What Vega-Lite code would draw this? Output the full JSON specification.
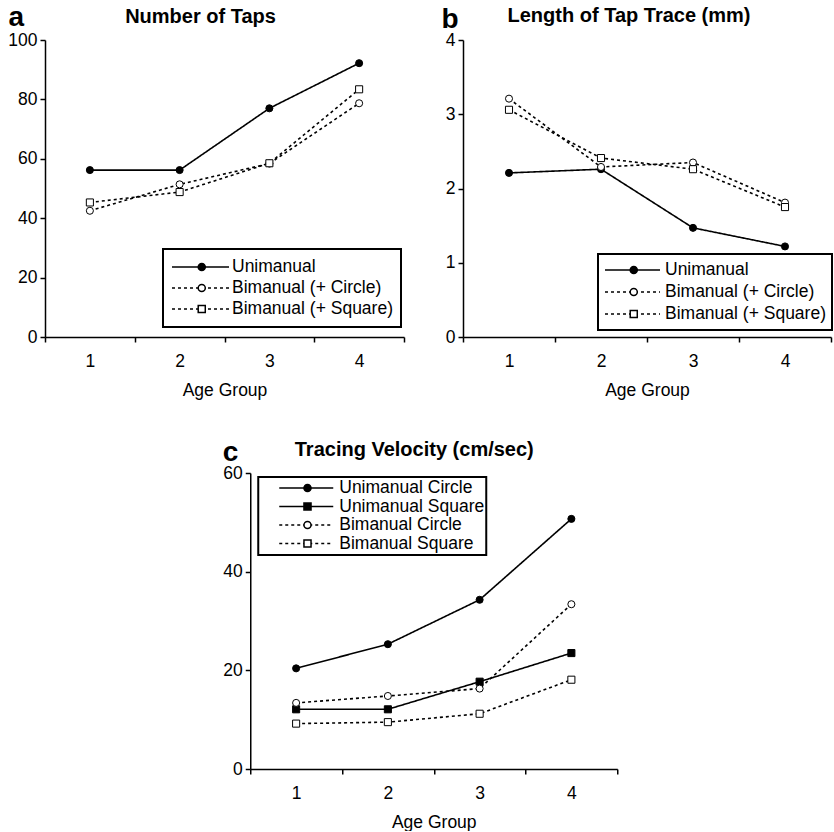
{
  "$schema": "https://vega.github.io/schema/vega-lite/v6.json",
  "padding": {"left": 7, "top": 3, "right": 0, "bottom": 0},
  "center": true,
  "spacing": 39,
  "resolve": {"scale": {"strokeDash": "independent", "shape": "independent", "fill": "independent"}, "legend": {"strokeDash": "independent", "shape": "independent", "fill": "independent"}},
  "datasets": {
    "taps": [
      {"age": 1, "series": "Unimanual", "value": 56.2},
      {"age": 2, "series": "Unimanual", "value": 56.2},
      {"age": 3, "series": "Unimanual", "value": 77.0},
      {"age": 4, "series": "Unimanual", "value": 92.2},
      {"age": 1, "series": "Bimanual (+ Circle)", "value": 42.5},
      {"age": 2, "series": "Bimanual (+ Circle)", "value": 51.4},
      {"age": 3, "series": "Bimanual (+ Circle)", "value": 58.4},
      {"age": 4, "series": "Bimanual (+ Circle)", "value": 78.7},
      {"age": 1, "series": "Bimanual (+ Square)", "value": 45.3},
      {"age": 2, "series": "Bimanual (+ Square)", "value": 48.8},
      {"age": 3, "series": "Bimanual (+ Square)", "value": 58.5},
      {"age": 4, "series": "Bimanual (+ Square)", "value": 83.4}
    ],
    "trace": [
      {"age": 1, "series": "Unimanual", "value": 2.21},
      {"age": 2, "series": "Unimanual", "value": 2.26},
      {"age": 3, "series": "Unimanual", "value": 1.47},
      {"age": 4, "series": "Unimanual", "value": 1.22},
      {"age": 1, "series": "Bimanual (+ Circle)", "value": 3.21},
      {"age": 2, "series": "Bimanual (+ Circle)", "value": 2.29},
      {"age": 3, "series": "Bimanual (+ Circle)", "value": 2.35},
      {"age": 4, "series": "Bimanual (+ Circle)", "value": 1.81},
      {"age": 1, "series": "Bimanual (+ Square)", "value": 3.06},
      {"age": 2, "series": "Bimanual (+ Square)", "value": 2.41},
      {"age": 3, "series": "Bimanual (+ Square)", "value": 2.26},
      {"age": 4, "series": "Bimanual (+ Square)", "value": 1.75}
    ],
    "velocity": [
      {"age": 1, "series": "Unimanual Circle", "value": 20.4},
      {"age": 2, "series": "Unimanual Circle", "value": 25.3},
      {"age": 3, "series": "Unimanual Circle", "value": 34.3},
      {"age": 4, "series": "Unimanual Circle", "value": 50.7},
      {"age": 1, "series": "Unimanual Square", "value": 12.1},
      {"age": 2, "series": "Unimanual Square", "value": 12.1},
      {"age": 3, "series": "Unimanual Square", "value": 17.7},
      {"age": 4, "series": "Unimanual Square", "value": 23.5},
      {"age": 1, "series": "Bimanual Circle", "value": 13.4},
      {"age": 2, "series": "Bimanual Circle", "value": 14.8},
      {"age": 3, "series": "Bimanual Circle", "value": 16.3},
      {"age": 4, "series": "Bimanual Circle", "value": 33.4},
      {"age": 1, "series": "Bimanual Square", "value": 9.2},
      {"age": 2, "series": "Bimanual Square", "value": 9.5},
      {"age": 3, "series": "Bimanual Square", "value": 11.2},
      {"age": 4, "series": "Bimanual Square", "value": 18.1}
    ]
  },
  "config": {
    "font": "Liberation Sans",
    "view": {"stroke": null},
    "axis": {
      "grid": false,
      "domainColor": "black", "domainWidth": 1.5,
      "tickColor": "black", "tickWidth": 1.5, "tickSize": 5,
      "labelColor": "black", "labelFont": "Liberation Sans", "labelFontSize": 17.5,
      "titleColor": "black", "titleFont": "Liberation Sans", "titleFontSize": 17.5, "titleFontWeight": "normal"
    },
    "axisX": {"labelAngle": 0, "labelPadding": 10, "titlePadding": 12, "tickBand": "extent"},
    "axisY": {"labelPadding": 3},
    "title": {"font": "Liberation Sans", "fontSize": 20, "fontWeight": "bold", "color": "black", "frame": "group", "anchor": "middle", "baseline": "alphabetic", "offset": 0},
    "legend": {"labelFont": "Liberation Sans", "labelFontSize": 17.5, "labelColor": "black", "labelLimit": 0}
  },
  "vconcat": [
    {
      "hconcat": [
        {
          "width": 359, "height": 297,
          "title": {"text": "Number of Taps", "dx": -24, "dy": 28},
          "data": {"name": "taps"},
          "encoding": {
            "x": {"field": "age", "type": "ordinal", "bandPosition": 0.5, "scale": {"type": "band", "paddingInner": 0, "paddingOuter": 0}, "axis": {"title": "Age Group"}},
            "y": {"field": "value", "type": "quantitative", "scale": {"domain": [0, 100]},
                  "axis": {"values": [0, 20, 40, 60, 80, 100], "title": "a", "titleAngle": 0, "titleAlign": "left", "titleBaseline": "alphabetic", "titleX": -37, "titleY": -15, "titleFontSize": 28, "titleFontWeight": "bold"}}
          },
          "layer": [
            {"mark": {"type": "line", "color": "black", "strokeWidth": 1.6},
             "encoding": {"strokeDash": {"field": "series", "type": "nominal",
               "scale": {"domain": ["Unimanual", "Bimanual (+ Circle)", "Bimanual (+ Square)"], "range": [[1, 0], [3, 3], [3, 3]]},
               "legend": {"title": null, "orient": "none", "legendX": 118, "legendY": 209, "symbolType": "stroke", "symbolSize": 3249, "symbolStrokeWidth": 1.5, "symbolStrokeColor": "black", "labelOffset": 2, "padding": 8, "clipHeight": 20, "rowPadding": 1, "strokeColor": "black", "encode": {"legend": {"update": {"strokeWidth": {"value": 2}}}}}}}},
            {"mark": {"type": "point", "filled": true, "opacity": 1, "stroke": "black", "strokeWidth": 1, "size": 50},
             "encoding": {
               "shape": {"field": "series", "type": "nominal",
                 "scale": {"domain": ["Unimanual", "Bimanual (+ Circle)", "Bimanual (+ Square)"], "range": ["circle", "circle", "square"]},
                 "legend": {"title": null, "orient": "none", "legendX": 140, "legendY": 209, "symbolSize": 50, "symbolOpacity": 1, "labelExpr": "''", "labelOpacity": 0, "labelOffset": 2, "padding": 8, "clipHeight": 20, "rowPadding": 1, "encode": {"symbols": {"update": {"stroke": {"value": "black"}, "strokeWidth": {"value": 1}}}}}},
               "fill": {"field": "series", "type": "nominal",
                 "scale": {"domain": ["Unimanual", "Bimanual (+ Circle)", "Bimanual (+ Square)"], "range": ["black", "white", "white"]},
                 "legend": {"title": null, "orient": "none", "legendX": 140, "legendY": 209, "symbolSize": 50, "symbolOpacity": 1, "labelExpr": "''", "labelOpacity": 0, "labelOffset": 2, "padding": 8, "clipHeight": 20, "rowPadding": 1, "encode": {"symbols": {"update": {"stroke": {"value": "black"}, "strokeWidth": {"value": 1}}}}}}
             }}
          ],
          "resolve": {"legend": {"strokeDash": "independent", "shape": "independent", "fill": "independent"}}
        },
        {
          "width": 368, "height": 297,
          "title": {"text": "Length of Tap Trace (mm)", "dx": -18, "dy": 24.5},
          "data": {"name": "trace"},
          "encoding": {
            "x": {"field": "age", "type": "ordinal", "bandPosition": 0.5, "scale": {"type": "band", "paddingInner": 0, "paddingOuter": 0}, "axis": {"title": "Age Group"}},
            "y": {"field": "value", "type": "quantitative", "scale": {"domain": [0, 4]},
                  "axis": {"values": [0, 1, 2, 3, 4], "title": "b", "titleAngle": 0, "titleAlign": "left", "titleBaseline": "alphabetic", "titleX": -22, "titleY": -13, "titleFontSize": 28, "titleFontWeight": "bold"}}
          },
          "layer": [
            {"mark": {"type": "line", "color": "black", "strokeWidth": 1.6},
             "encoding": {"strokeDash": {"field": "series", "type": "nominal",
               "scale": {"domain": ["Unimanual", "Bimanual (+ Circle)", "Bimanual (+ Square)"], "range": [[1, 0], [3, 3], [3, 3]]},
               "legend": {"title": null, "orient": "none", "legendX": 135, "legendY": 214, "symbolType": "stroke", "symbolSize": 3025, "symbolStrokeWidth": 1.5, "symbolStrokeColor": "black", "labelOffset": 4, "padding": 6, "clipHeight": 20, "rowPadding": 2, "strokeColor": "black", "encode": {"legend": {"update": {"strokeWidth": {"value": 2}}}}}}}},
            {"mark": {"type": "point", "filled": true, "opacity": 1, "stroke": "black", "strokeWidth": 1, "size": 50},
             "encoding": {
               "shape": {"field": "series", "type": "nominal",
                 "scale": {"domain": ["Unimanual", "Bimanual (+ Circle)", "Bimanual (+ Square)"], "range": ["circle", "circle", "square"]},
                 "legend": {"title": null, "orient": "none", "legendX": 156, "legendY": 214, "symbolSize": 50, "symbolOpacity": 1, "labelExpr": "''", "labelOpacity": 0, "labelOffset": 4, "padding": 6, "clipHeight": 20, "rowPadding": 2, "encode": {"symbols": {"update": {"stroke": {"value": "black"}, "strokeWidth": {"value": 1}}}}}},
               "fill": {"field": "series", "type": "nominal",
                 "scale": {"domain": ["Unimanual", "Bimanual (+ Circle)", "Bimanual (+ Square)"], "range": ["black", "white", "white"]},
                 "legend": {"title": null, "orient": "none", "legendX": 156, "legendY": 214, "symbolSize": 50, "symbolOpacity": 1, "labelExpr": "''", "labelOpacity": 0, "labelOffset": 4, "padding": 6, "clipHeight": 20, "rowPadding": 2, "encode": {"symbols": {"update": {"stroke": {"value": "black"}, "strokeWidth": {"value": 1}}}}}}
             }}
          ],
          "resolve": {"legend": {"strokeDash": "independent", "shape": "independent", "fill": "independent"}}
        }
      ],
      "spacing": 59,
      "bounds": "flush",
      "resolve": {"scale": {"strokeDash": "independent", "shape": "independent", "fill": "independent"}, "legend": {"strokeDash": "independent", "shape": "independent", "fill": "independent"}}
    },
    {
      "width": 367, "height": 296,
      "title": {"text": "Tracing Velocity (cm/sec)", "dx": -19.5, "dy": 26},
      "data": {"name": "velocity"},
      "encoding": {
        "x": {"field": "age", "type": "ordinal", "bandPosition": 0.5, "scale": {"type": "band", "paddingInner": 0, "paddingOuter": 0}, "axis": {"title": "Age Group"}},
        "y": {"field": "value", "type": "quantitative", "scale": {"domain": [0, 60]},
              "axis": {"values": [0, 20, 40, 60], "title": "c", "titleAngle": 0, "titleAlign": "left", "titleBaseline": "alphabetic", "titleX": -28, "titleY": -13, "titleFontSize": 28, "titleFontWeight": "bold"}}
      },
      "layer": [
        {"mark": {"type": "line", "color": "black", "strokeWidth": 1.6},
         "encoding": {"strokeDash": {"field": "series", "type": "nominal",
           "scale": {"domain": ["Unimanual Circle", "Unimanual Square", "Bimanual Circle", "Bimanual Square"], "range": [[1, 0], [1, 0], [3, 3], [3, 3]]},
           "legend": {"title": null, "orient": "none", "legendX": 8, "legendY": 4, "symbolType": "stroke", "symbolSize": 2916, "symbolStrokeWidth": 1.5, "symbolStrokeColor": "black", "symbolOffset": 18, "labelOffset": 5, "padding": 2, "clipHeight": 18, "rowPadding": 0.5, "strokeColor": "black", "encode": {"legend": {"update": {"strokeWidth": {"value": 2}}}}}}}},
        {"mark": {"type": "point", "filled": true, "opacity": 1, "stroke": "black", "strokeWidth": 1, "size": 50},
         "encoding": {
           "shape": {"field": "series", "type": "nominal",
             "scale": {"domain": ["Unimanual Circle", "Unimanual Square", "Bimanual Circle", "Bimanual Square"], "range": ["circle", "square", "circle", "square"]},
             "legend": {"title": null, "orient": "none", "legendX": 46.5, "legendY": 4, "symbolSize": 50, "symbolOpacity": 1, "labelExpr": "'M'", "labelOpacity": 0, "labelOffset": 294, "padding": 2, "clipHeight": 18, "rowPadding": 0.5, "encode": {"symbols": {"update": {"stroke": {"value": "black"}, "strokeWidth": {"value": 1}}}}}},
           "fill": {"field": "series", "type": "nominal",
             "scale": {"domain": ["Unimanual Circle", "Unimanual Square", "Bimanual Circle", "Bimanual Square"], "range": ["black", "black", "white", "white"]},
             "legend": {"title": null, "orient": "none", "legendX": 46.5, "legendY": 4, "symbolSize": 50, "symbolOpacity": 1, "labelExpr": "'M'", "labelOpacity": 0, "labelOffset": 294, "padding": 2, "clipHeight": 18, "rowPadding": 0.5, "encode": {"symbols": {"update": {"stroke": {"value": "black"}, "strokeWidth": {"value": 1}}}}}}
         }}
      ],
      "resolve": {"legend": {"strokeDash": "independent", "shape": "independent", "fill": "independent"}}
    }
  ]
}
